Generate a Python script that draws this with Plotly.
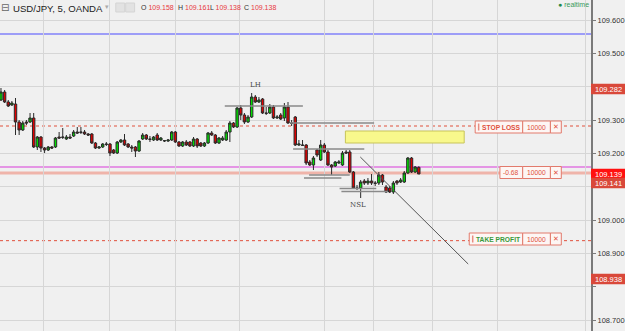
import plotly.graph_objects as go

# ---------------- data ----------------
idx = list(range(116))
opens = [
    109.360, 109.384, 109.354, 109.345, 109.348, 109.294, 109.270, 109.294, 109.294, 109.306,
    109.219, 109.249, 109.216, 109.210, 109.219, 109.219, 109.249, 109.249, 109.243, 109.249,
    109.252, 109.264, 109.264, 109.264, 109.258, 109.258, 109.231, 109.216, 109.219, 109.228,
    109.228, 109.210, 109.201, 109.234, 109.240, 109.228, 109.219, 109.219, 109.207, 109.243,
    109.255, 109.243, 109.240, 109.255, 109.240, 109.237, 109.237, 109.240, 109.264, 109.234,
    109.222, 109.234, 109.234, 109.222, 109.243, 109.231, 109.222, 109.231, 109.261, 109.255,
    109.231, 109.240, 109.240, 109.264, 109.291, 109.279, 109.336, 109.315, 109.294, 109.309,
    109.369, 109.354, 109.363, 109.321, 109.321, 109.339, 109.306, 109.315, 109.306, 109.339,
    109.291, 109.309, 109.225, 109.225, 109.225, 109.174, 109.165, 109.210, 109.180, 109.225,
    109.204, 109.165, 109.162, 109.171, 109.165, 109.204, 109.204, 109.144, 109.096, 109.096,
    109.117, 109.111, 109.117, 109.111, 109.111, 109.135, 109.099, 109.096, 109.084, 109.117,
    109.114, 109.114, 109.141, 109.186, 109.144, 109.158]
highs = [
    109.396, 109.390, 109.360, 109.357, 109.366, 109.300, 109.297, 109.300, 109.321, 109.321,
    109.252, 109.252, 109.219, 109.222, 109.222, 109.249, 109.264, 109.276, 109.255, 109.258,
    109.270, 109.279, 109.279, 109.270, 109.261, 109.261, 109.234, 109.222, 109.231, 109.234,
    109.231, 109.213, 109.237, 109.243, 109.258, 109.231, 109.225, 109.222, 109.240, 109.261,
    109.258, 109.252, 109.252, 109.261, 109.249, 109.240, 109.243, 109.267, 109.267, 109.237,
    109.237, 109.240, 109.237, 109.249, 109.246, 109.234, 109.234, 109.264, 109.267, 109.258,
    109.249, 109.252, 109.270, 109.297, 109.294, 109.339, 109.345, 109.321, 109.315, 109.381,
    109.375, 109.369, 109.366, 109.339, 109.348, 109.345, 109.315, 109.321, 109.351, 109.354,
    109.300, 109.312, 109.240, 109.240, 109.228, 109.180, 109.192, 109.213, 109.240, 109.231,
    109.210, 109.168, 109.177, 109.180, 109.207, 109.210, 109.210, 109.147, 109.105, 109.120,
    109.123, 109.126, 109.138, 109.117, 109.144, 109.138, 109.105, 109.102, 109.117, 109.120,
    109.126, 109.147, 109.189, 109.189, 109.162, 109.161]
lows = [
    109.357, 109.351, 109.339, 109.342, 109.255, 109.255, 109.267, 109.285, 109.291, 109.216,
    109.210, 109.204, 109.201, 109.207, 109.213, 109.216, 109.243, 109.243, 109.240, 109.243,
    109.249, 109.258, 109.258, 109.255, 109.252, 109.228, 109.213, 109.213, 109.216, 109.222,
    109.192, 109.198, 109.198, 109.231, 109.222, 109.216, 109.204, 109.189, 109.204, 109.240,
    109.240, 109.234, 109.237, 109.237, 109.237, 109.234, 109.234, 109.237, 109.231, 109.219,
    109.219, 109.222, 109.219, 109.219, 109.216, 109.219, 109.219, 109.228, 109.252, 109.228,
    109.228, 109.237, 109.237, 109.234, 109.276, 109.276, 109.300, 109.288, 109.291, 109.306,
    109.351, 109.351, 109.318, 109.315, 109.318, 109.303, 109.303, 109.300, 109.297, 109.288,
    109.282, 109.222, 109.222, 109.222, 109.165, 109.162, 109.150, 109.189, 109.177, 109.201,
    109.162, 109.135, 109.159, 109.168, 109.162, 109.198, 109.141, 109.093, 109.090, 109.066,
    109.105, 109.105, 109.105, 109.102, 109.105, 109.105, 109.081, 109.081, 109.078, 109.105,
    109.111, 109.111, 109.138, 109.141, 109.141, 109.138]
closes = [
    109.384, 109.354, 109.342, 109.351, 109.294, 109.270, 109.291, 109.291, 109.306, 109.219,
    109.249, 109.216, 109.210, 109.219, 109.216, 109.246, 109.246, 109.248, 109.249, 109.246,
    109.264, 109.261, 109.263, 109.258, 109.255, 109.231, 109.216, 109.219, 109.228, 109.227,
    109.201, 109.201, 109.234, 109.240, 109.225, 109.219, 109.216, 109.207, 109.237, 109.255,
    109.243, 109.242, 109.249, 109.240, 109.246, 109.238, 109.240, 109.264, 109.234, 109.222,
    109.234, 109.225, 109.222, 109.243, 109.222, 109.222, 109.231, 109.261, 109.255, 109.231,
    109.246, 109.246, 109.264, 109.291, 109.279, 109.336, 109.315, 109.294, 109.309, 109.369,
    109.354, 109.360, 109.321, 109.320, 109.339, 109.306, 109.309, 109.303, 109.339, 109.291,
    109.290, 109.225, 109.228, 109.224, 109.171, 109.165, 109.186, 109.195, 109.225, 109.204,
    109.165, 109.159, 109.174, 109.174, 109.201, 109.201, 109.144, 109.096, 109.095, 109.114,
    109.111, 109.117, 109.111, 109.110, 109.135, 109.114, 109.084, 109.084, 109.111, 109.111,
    109.120, 109.141, 109.186, 109.144, 109.159, 109.138]

y_ticks = [108.7, 108.8, 108.9, 109.0, 109.1, 109.2, 109.3, 109.4, 109.5, 109.6]
y_tick_text = ["108.700", "", "108.900", "109.000", "", "109.200", "109.300", "", "109.500", "109.600"]
x_grid = [11.7, 30.0, 48.0, 65.7, 89.1, 102.5, 118.8, 136.8, 160.8]

# drawn objects: (start index, end index, price)
gray_lines = [(61.6, 83.1, 109.342), (79.6, 102.7, 109.291), (80.4, 100.0, 109.213),
              (84.8, 96.0, 109.135), (83.4, 93.7, 109.126), (93.2, 103.3, 109.0945),
              (93.7, 106.5, 109.0855)]
trend_line = (98.9, 109.189, 128.6, 108.868)
zone_box = (94.8, 127.5, 109.231, 109.267)
blue_level = 109.558
stop_level = 109.282
bid_level = 109.159
entry_level = 109.141
tp_level = 108.938
ohlc_text = [("O", "109.158"), ("H", "109.161"), ("L", "109.138"), ("C", "109.138")]
price_tags = [("109.282", 109.393, "#d9483a"), ("109.139", 109.138, "#ff1010"),
              ("109.141", 109.111, "#d9483a"), ("108.938", 108.823, "#d9483a")]

# ---------------- figure ----------------
W, H = 597, 331
Y0, Y1 = 108.667, 109.660

def px(x):
    return x / W

def py(y):
    return 1 - y / H

fig = go.Figure()
fig.add_trace(go.Candlestick(
    x=idx, open=opens, high=highs, low=lows, close=closes,
    increasing=dict(line=dict(color="#2a2a2a", width=1), fillcolor="#00dd00"),
    decreasing=dict(line=dict(color="#2a2a2a", width=1), fillcolor="#e00000"),
    whiskerwidth=0, hoverinfo="skip", showlegend=False))

shapes = []
shapes.append(dict(type="line", xref="paper", x0=0, x1=1, yref="y", y0=blue_level, y1=blue_level,
                   line=dict(color="#4a4aff", width=1), layer="below"))
shapes.append(dict(type="line", xref="paper", x0=0, x1=1, yref="y", y0=entry_level, y1=entry_level,
                   line=dict(color="#efb4aa", width=3), layer="below"))
shapes.append(dict(type="line", xref="paper", x0=0, x1=1, yref="y", y0=bid_level, y1=bid_level,
                   line=dict(color="#d93ad9", width=1), layer="below"))
for lvl in (stop_level, tp_level):
    shapes.append(dict(type="line", xref="paper", x0=0, x1=1, yref="y", y0=lvl, y1=lvl,
                       line=dict(color="#e0503c", width=1, dash="dot"), layer="below"))
for x0, x1, p in gray_lines:
    shapes.append(dict(type="line", xref="x", yref="y", x0=x0, x1=x1, y0=p, y1=p,
                       line=dict(color="#8a8a8a", width=1.5)))
shapes.append(dict(type="line", xref="x", yref="y", x0=trend_line[0], y0=trend_line[1],
                   x1=trend_line[2], y1=trend_line[3], line=dict(color="#555555", width=1)))
shapes.append(dict(type="rect", xref="x", yref="y", x0=zone_box[0], x1=zone_box[1],
                   y0=zone_box[2], y1=zone_box[3], fillcolor="#f8f88c",
                   line=dict(color="#c8c45a", width=1)))

annotations = []

def ann(x, y, text, size, color, family="Liberation Sans", xanchor="center"):
    annotations.append(dict(xref="paper", yref="paper", x=px(x), y=py(y), text=text,
                            xanchor=xanchor, yanchor="middle", showarrow=False,
                            borderpad=0, font=dict(size=size, color=color, family=family)))

def order_box(ycen, first_x0, first_text, first_color, handle):
    segs = [(first_x0, 528), (528, 556), (556, 567)]
    for a, b in segs:
        shapes.append(dict(type="rect", xref="paper", yref="paper", x0=px(a), x1=px(b),
                           y0=py(ycen + 6), y1=py(ycen - 6), fillcolor="#fdf6f4",
                           line=dict(color="#e27a6c", width=1)))
    if handle:
        shapes.append(dict(type="line", xref="paper", yref="paper", x0=px(first_x0 + 3.5),
                           x1=px(first_x0 + 3.5), y0=py(ycen + 3.5), y1=py(ycen - 3.5),
                           line=dict(color="#e88c80", width=1.5)))
    start = first_x0 + (5 if handle else 0)
    ann((start + 528) / 2, ycen, first_text, 6.7, first_color)
    ann(542, ycen, "10000", 6.7, "#e0503c")
    ann(561.5, ycen, "✕", 7, "#e0503c", "DejaVu Sans")

order_box(127, 480, "<b>STOP LOSS</b>", "#e0503c", True)
order_box(172.5, 505, "-0.68", "#e0503c", False)
order_box(239, 474, "<b>TAKE PROFIT</b>", "#3a9a3a", True)

for txt, p, col in price_tags:
    shapes.append(dict(type="rect", xref="paper", yref="y", x0=1.0, x1=1.06,
                       y0=p - 0.0155, y1=p + 0.0155, fillcolor=col, line=dict(width=0),
                       layer="above"))
    annotations.append(dict(xref="paper", yref="y", x=px(600), y=p, xanchor="left",
                            yanchor="middle", text=txt, showarrow=False, borderpad=0,
                            font=dict(size=7.5, color="white", family="Liberation Sans")))

annotations.append(dict(xref="x", yref="y", x=70.0, y=109.405, text="LH", showarrow=False,
                        xanchor="center", yanchor="middle",
                        font=dict(size=7, color="#444444", family="DejaVu Serif")))
annotations.append(dict(xref="x", yref="y", x=98.2, y=109.045, text="NSL", showarrow=False,
                        xanchor="center", yanchor="middle",
                        font=dict(size=7, color="#444444", family="DejaVu Serif")))

# header
ann(0.5, 7.5, "⊟", 10, "#666666", "DejaVu Sans", "left")
ann(12.5, 8, "USD/JPY, 5, OANDA", 9.6, "#222222", "Liberation Sans", "left")
ann(105, 7, "▾", 7, "#aaaaaa", "DejaVu Sans", "left")
for a, b in ((117, 126), (127, 136)):
    shapes.append(dict(type="rect", xref="paper", yref="paper", x0=px(a), x1=px(b),
                       y0=py(12), y1=py(3), fillcolor="#e2e2e2", line=dict(color="#d4d4d4", width=1)))
for (lab, val), x0 in zip(ohlc_text, (141, 178.5, 211.5, 245)):
    ann(x0, 7.5, f"{lab} <span style='color:#e8383d'>{val}</span>", 7, "#333333",
        "Liberation Sans", "left")
ann(596, 5, "<span style='color:#1f8a4c'>●</span> realtime", 7, "#3a9a5a",
    "Liberation Sans", "right")

fig.update_layout(
    width=625, height=331,
    margin=dict(l=0, r=28, t=0, b=0),
    paper_bgcolor="#f0f0f0", plot_bgcolor="#f0f0f0",
    shapes=shapes, annotations=annotations,
    showlegend=False, boxgap=0.05,
    xaxis=dict(range=[-0.27, 162.4], showticklabels=False, tickvals=x_grid, ticks="",
               showgrid=True, gridcolor="#d6d6d6", gridwidth=1, zeroline=False,
               rangeslider=dict(visible=False), fixedrange=True),
    yaxis=dict(range=[Y0, Y1], side="right", tickvals=y_ticks, ticktext=y_tick_text,
               showgrid=True, gridcolor="#d6d6d6", gridwidth=1, zeroline=False,
               showline=True, linecolor="#7a7a7a", linewidth=2,
               ticks="outside", ticklen=3, tickcolor="#7a7a7a",
               tickfont=dict(size=7.5, color="#333333", family="Liberation Sans")),
)

fig.write_html("out.html")
